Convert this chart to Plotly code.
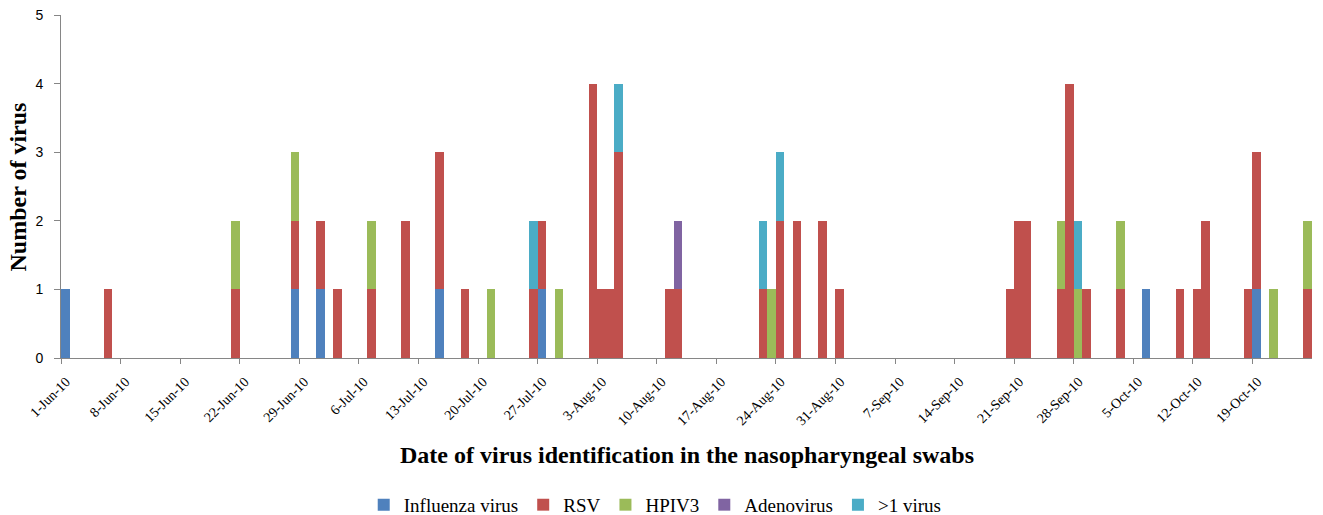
import plotly.graph_objects as go

dates = ["2010-06-01", "2010-06-06", "2010-06-21", "2010-06-28", "2010-07-01", "2010-07-03",
         "2010-07-07", "2010-07-11", "2010-07-15", "2010-07-18", "2010-07-21", "2010-07-26",
         "2010-07-27", "2010-07-29", "2010-08-02", "2010-08-03", "2010-08-04", "2010-08-05",
         "2010-08-11", "2010-08-12", "2010-08-22", "2010-08-23", "2010-08-24", "2010-08-26",
         "2010-08-29", "2010-08-31", "2010-09-20", "2010-09-21", "2010-09-22", "2010-09-26",
         "2010-09-27", "2010-09-28", "2010-09-29", "2010-10-03", "2010-10-06", "2010-10-10",
         "2010-10-12", "2010-10-13", "2010-10-18", "2010-10-19", "2010-10-21", "2010-10-25"]

influenza = [1, 0, 0, 1, 1, 0, 0, 0, 1, 0, 0, 0, 1, 0, 0, 0, 0, 0, 0, 0, 0,
             0, 0, 0, 0, 0, 0, 0, 0, 0, 0, 0, 0, 0, 1, 0, 0, 0, 0, 1, 0, 0]
rsv =       [0, 1, 1, 1, 1, 1, 1, 2, 2, 1, 0, 1, 1, 0, 4, 1, 1, 3, 1, 1, 1,
             0, 2, 2, 2, 1, 1, 2, 2, 1, 4, 0, 1, 1, 0, 1, 1, 2, 1, 2, 0, 1]
hpiv3 =     [0, 0, 1, 1, 0, 0, 1, 0, 0, 0, 1, 0, 0, 1, 0, 0, 0, 0, 0, 0, 0,
             1, 0, 0, 0, 0, 0, 0, 0, 1, 0, 1, 0, 1, 0, 0, 0, 0, 0, 0, 1, 1]
adeno =     [0, 0, 0, 0, 0, 0, 0, 0, 0, 0, 0, 0, 0, 0, 0, 0, 0, 0, 0, 1, 0,
             0, 0, 0, 0, 0, 0, 0, 0, 0, 0, 0, 0, 0, 0, 0, 0, 0, 0, 0, 0, 0]
multi =     [0, 0, 0, 0, 0, 0, 0, 0, 0, 0, 0, 1, 0, 0, 0, 0, 0, 1, 0, 0, 1,
             0, 1, 0, 0, 0, 0, 0, 0, 0, 0, 1, 0, 0, 0, 0, 0, 0, 0, 0, 0, 0]

series_names = ["Influenza virus", "RSV", "HPIV3", "Adenovirus", ">1 virus"]
series_values = [influenza, rsv, hpiv3, adeno, multi]
series_colors = ["#4F81BD", "#C0504D", "#9BBB59", "#8064A2", "#4BACC6"]

tick_dates = ["2010-06-01", "2010-06-08", "2010-06-15", "2010-06-22", "2010-06-29",
              "2010-07-06", "2010-07-13", "2010-07-20", "2010-07-27", "2010-08-03",
              "2010-08-10", "2010-08-17", "2010-08-24", "2010-08-31", "2010-09-07",
              "2010-09-14", "2010-09-21", "2010-09-28", "2010-10-05", "2010-10-12",
              "2010-10-19"]
tick_labels = ["1-Jun-10", "8-Jun-10", "15-Jun-10", "22-Jun-10", "29-Jun-10",
               "6-Jul-10", "13-Jul-10", "20-Jul-10", "27-Jul-10", "3-Aug-10",
               "10-Aug-10", "17-Aug-10", "24-Aug-10", "31-Aug-10", "7-Sep-10",
               "14-Sep-10", "21-Sep-10", "28-Sep-10", "5-Oct-10", "12-Oct-10",
               "19-Oct-10"]

DAY_MS = 86400000

fig = go.Figure()
for name, vals, col in zip(series_names, series_values, series_colors):
    fig.add_trace(go.Bar(
        x=dates, y=vals, name=name,
        marker=dict(color=col, line=dict(width=0)),
        xperiod=DAY_MS, xperiodalignment="middle",
        width=DAY_MS,
    ))

fig.update_layout(
    barmode="stack",
    bargap=0,
    width=1323, height=515,
    margin=dict(l=61, r=11, t=15, b=157, autoexpand=False),
    paper_bgcolor="white", plot_bgcolor="white",
    showlegend=True,
    legend=dict(orientation="h", x=0.475, xanchor="center", y=-0.428, yanchor="middle",
                font=dict(family="Liberation Serif", size=19, color="#000000"),
                itemwidth=30, traceorder="normal", tracegroupgap=0),
    xaxis=dict(type="date", range=["2010-06-01", "2010-10-26"], automargin=False,
               tickvals=tick_dates, ticktext=tick_labels, tickangle=-45,
               tickfont=dict(family="Liberation Serif", size=14, color="#000000"),
               ticklabelshift=5, ticklabelstandoff=4,
               showline=True, linecolor="#868686", linewidth=1,
               ticks="outside", ticklen=5, tickcolor="#868686",
               showgrid=False, zeroline=False),
    yaxis=dict(range=[0, 5], dtick=1, tick0=0, automargin=False,
               tickfont=dict(family="Liberation Sans", size=14, color="#000000"),
               ticklabelstandoff=8,
               showline=True, linecolor="#868686", linewidth=1,
               ticks="outside", ticklen=6, tickcolor="#868686",
               showgrid=False, zeroline=False),
    annotations=[
        dict(text="<b>Number of virus</b>", xref="paper", yref="paper",
             x=-0.0344, y=0.5, xanchor="center", yanchor="middle",
             textangle=-90, showarrow=False,
             font=dict(family="Liberation Serif", size=24, color="#000000")),
        dict(text="<b>Date of virus identification in the nasopharyngeal swabs</b>",
             xref="paper", yref="paper", x=0.5, y=-0.283,
             xanchor="center", yanchor="middle", showarrow=False,
             font=dict(family="Liberation Serif", size=24, color="#000000")),
    ],
)

fig.write_html("out.html", config={"displayModeBar": False},
               post_script="document.body.style.margin='0';")
